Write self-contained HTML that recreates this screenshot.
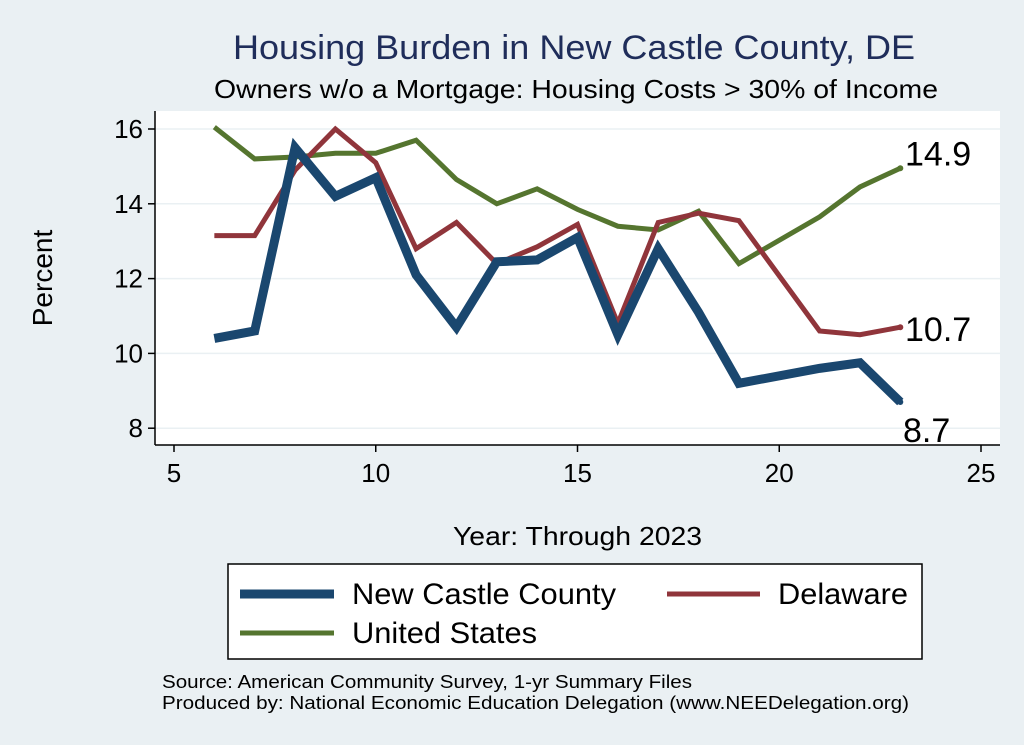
<!DOCTYPE html>
<html><head><meta charset="utf-8"><style>
body{margin:0;background:#eaf0f3;font-family:"Liberation Sans",sans-serif;}
svg{display:block}
</style></head><body>
<svg width="1024" height="745" viewBox="0 0 1024 745">
<rect x="0" y="0" width="1024" height="745" fill="#eaf0f3"/>
<text x="233" y="59" font-size="34" fill="#1f2d5a" textLength="682" lengthAdjust="spacingAndGlyphs">Housing Burden in New Castle County, DE</text>
<text x="214" y="98" font-size="26" fill="#000" textLength="724" lengthAdjust="spacingAndGlyphs">Owners w/o a Mortgage: Housing Costs &gt; 30% of Income</text>
<rect x="155" y="111" width="845" height="334" fill="#fff"/>
<g id="grid"></g><g id="axes"></g><g id="series"></g>
<text x="52" y="278" font-size="28" text-anchor="middle" transform="rotate(-90 52 278)">Percent</text>
<text x="453" y="545" font-size="26" textLength="249" lengthAdjust="spacingAndGlyphs">Year: Through 2023</text>
<g>
<rect x="228" y="564" width="694" height="95" fill="#fff" stroke="#000" stroke-width="1.5"/>
<g><line x1="240" y1="594" x2="334" y2="594" stroke="#1a476f" stroke-width="9"/><text x="352" y="604" font-size="30" textLength="264" lengthAdjust="spacingAndGlyphs">New Castle County</text></g>
<g><line x1="667" y1="594" x2="760" y2="594" stroke="#90353b" stroke-width="5"/><text x="778" y="604" font-size="30" textLength="130" lengthAdjust="spacingAndGlyphs">Delaware</text></g>
<g><line x1="240" y1="633" x2="334" y2="633" stroke="#55752f" stroke-width="5"/><text x="352" y="643" font-size="30" textLength="185" lengthAdjust="spacingAndGlyphs">United States</text></g>
</g>
<text x="162" y="688" font-size="18" textLength="530" lengthAdjust="spacingAndGlyphs">Source: American Community Survey, 1-yr Summary Files</text>
<text x="162" y="709" font-size="18" textLength="747" lengthAdjust="spacingAndGlyphs">Produced by: National Economic Education Delegation (www.NEEDelegation.org)</text>
</svg>
<script>
const years=[6,7,8,9,10,11,12,13,14,15,16,17,18,19,21,22,23];
const ncc=[10.4,10.6,15.5,14.2,14.7,12.1,10.7,12.45,12.5,13.1,10.5,12.8,11.1,9.2,9.6,9.75,8.7];
const de=[13.15,13.15,14.9,16.0,15.1,12.8,13.5,12.4,12.85,13.45,10.8,13.5,13.75,13.55,10.6,10.5,10.7];
const us=[16.05,15.2,15.25,15.35,15.35,15.7,14.65,14.0,14.4,13.85,13.4,13.3,13.8,12.4,13.65,14.45,14.95];
const xTicks=[5,10,15,20,25];
const yTicks=[8,10,12,14,16];
const NS="http://www.w3.org/2000/svg";
const xs=v=>174+(v-5)*40.35, ys=v=>129+(16-v)*37.4;
function mk(t,a,p){const e=document.createElementNS(NS,t);for(const k in a)e.setAttribute(k,a[k]);document.getElementById(p).appendChild(e);return e;}
yTicks.forEach(t=>{
 const g=mk('line',{x1:155,x2:1000,y1:ys(t),y2:ys(t),stroke:'#eaf0f3','stroke-width':1.5},'grid');
 
 
 const tk=mk('line',{x1:148,x2:155,y1:ys(t),y2:ys(t),stroke:'#000','stroke-width':1.5},'axes');
 
 
 const l=mk('text',{x:143,y:ys(t)+9,'font-size':26,'text-anchor':'end'},'axes');l.textContent=t;
 
 
});
const ya=mk('line',{x1:155,x2:155,y1:111,y2:445,stroke:'#000','stroke-width':1.5},'axes');


const xa=mk('line',{x1:155,x2:1000,y1:445,y2:445,stroke:'#000','stroke-width':1.5},'axes');


xTicks.forEach(t=>{
 const tk=mk('line',{x1:xs(t),x2:xs(t),y1:445,y2:452,stroke:'#000','stroke-width':1.5},'axes');
 
 
 const l=mk('text',{x:xs(t),y:482,'font-size':26,'text-anchor':'middle'},'axes');l.textContent=t;
 
 
});
function series(vals,color,w,name,lx,ly){
 const p=mk('polyline',{points:years.map((y,i)=>xs(y)+','+ys(vals[i])).join(' '),fill:'none',stroke:color,'stroke-width':w,'stroke-linejoin':'miter'},'series');
 
 
 const last=vals[vals.length-1];
 const d=mk('circle',{cx:xs(years[years.length-1]),cy:ys(last),r:3,fill:color},'series');
 
 
 const t=mk('text',{x:lx,y:ys(last)+ly,'font-size':34},'series');t.textContent=last.toFixed(1);
 
 
}
series(us,'#55752f',5,'united-states',905,-3);
series(de,'#90353b',5,'delaware',905,14);
series(ncc,'#1a476f',9,'new-castle-county',903,40);
</script>
</body></html>
